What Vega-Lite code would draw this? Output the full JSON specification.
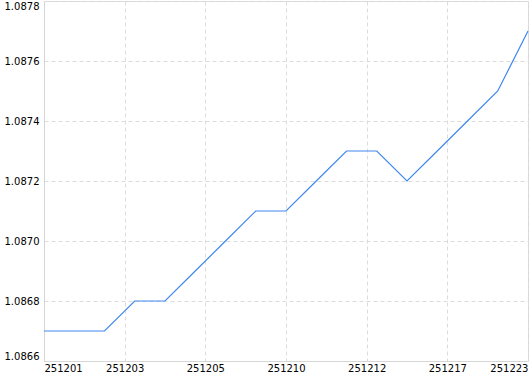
{
  "$schema": "https://vega.github.io/schema/vega-lite/v6.json",
  "width": 484,
  "height": 360,
  "autosize": {"type": "none"},
  "padding": {"left": 44, "top": 1, "right": 2, "bottom": 13},
  "background": "white",
  "config": {"view": {"stroke": "#d6d6d6", "strokeWidth": 1}, "font": "DejaVu Sans"},
  "data": {
    "values": [
      {"n": 0, "date": "251201", "rate": 1.0867},
      {"n": 1, "date": "251202", "rate": 1.0867},
      {"n": 2, "date": "251203", "rate": 1.0867},
      {"n": 3, "date": "251204", "rate": 1.0868},
      {"n": 4, "date": "251205", "rate": 1.0868},
      {"n": 5, "date": "251208", "rate": 1.0869},
      {"n": 6, "date": "251209", "rate": 1.0870},
      {"n": 7, "date": "251210", "rate": 1.0871},
      {"n": 8, "date": "251211", "rate": 1.0871},
      {"n": 9, "date": "251212", "rate": 1.0872},
      {"n": 10, "date": "251215", "rate": 1.0873},
      {"n": 11, "date": "251216", "rate": 1.0873},
      {"n": 12, "date": "251217", "rate": 1.0872},
      {"n": 13, "date": "251218", "rate": 1.0873},
      {"n": 14, "date": "251219", "rate": 1.0874},
      {"n": 15, "date": "251222", "rate": 1.0875},
      {"n": 16, "date": "251223", "rate": 1.0877}
    ]
  },
  "mark": {"type": "line", "color": "#4088ee", "strokeWidth": 1.2},
  "encoding": {
    "x": {
      "field": "n",
      "type": "quantitative",
      "scale": {"domain": [0, 16], "nice": false, "zero": false},
      "axis": {
        "title": null,
        "values": [0, 2.6667, 5.3333, 8, 10.6667, 13.3333, 16],
        "labelExpr": "['251201','251203','251205','251210','251212','251217','251223'][round(datum.value*3/8)]",
        "labelFlush": true,
        "labelOverlap": false,
        "ticks": false,
        "domainColor": "#d6d6d6",
        "grid": true,
        "gridColor": "#dcdcdc",
        "gridDash": [4, 3],
        "labelFont": "DejaVu Sans",
        "labelFontSize": 10,
        "labelColor": "#000000",
        "labelPadding": 2
      }
    },
    "y": {
      "field": "rate",
      "type": "quantitative",
      "scale": {"domain": [1.0866, 1.0878], "nice": false, "zero": false},
      "axis": {
        "title": null,
        "values": [1.0866, 1.0868, 1.087, 1.0872, 1.0874, 1.0876, 1.0878],
        "format": ".4f",
        "labelFlush": true,
        "labelOverlap": false,
        "ticks": false,
        "domainColor": "#d6d6d6",
        "grid": true,
        "gridColor": "#dcdcdc",
        "gridDash": [4, 3],
        "labelFont": "DejaVu Sans",
        "labelFontSize": 10,
        "labelColor": "#000000",
        "labelPadding": 5
      }
    }
  }
}
